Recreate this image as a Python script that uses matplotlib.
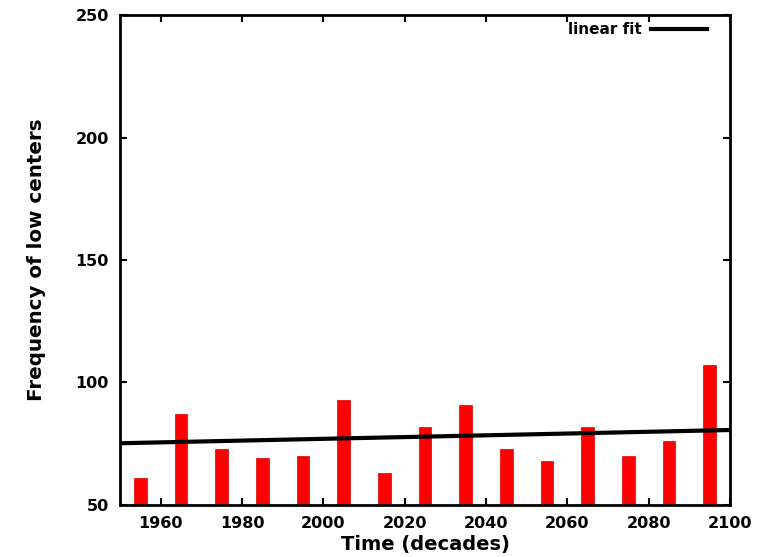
import matplotlib
matplotlib.use("Agg")
import matplotlib.pyplot as plt
from matplotlib.lines import Line2D

# Decadal counts of low-pressure centres
decades = [1955, 1965, 1975, 1985, 1995, 2005, 2015, 2025, 2035, 2045,
           2055, 2065, 2075, 2085, 2095]
counts = [61, 87, 73, 69, 70, 93, 63, 82, 91, 73, 68, 82, 70, 76, 107]

# Linear trend line endpoints
fit_years = [1950, 2100]
fit_values = [75.2, 80.6]

xticks = [1960, 1980, 2000, 2020, 2040, 2060, 2080, 2100]
yticks = [50, 100, 150, 200, 250]

plt.rcParams["font.family"] = ["DejaVu Sans"]
plt.rcParams["font.weight"] = "bold"

fig = plt.figure(figsize=(7.76, 5.57), dpi=100)
ax = fig.add_axes([0.1546, 0.0934, 0.7861, 0.8796])

ax.bar(decades, counts, width=3.1, color="#ff0000", edgecolor="#e00000",
       linewidth=0.5, zorder=2)
ax.plot(fit_years, fit_values, color="black", linewidth=3, zorder=3)

ax.set_xlim(1950, 2100)
ax.set_ylim(50, 250)
ax.set_xticks(xticks)
ax.set_yticks(yticks)
ax.tick_params(direction="in", length=5, width=1.5, top=True, right=True,
               labelsize=11.5, pad=8)
for lbl in ax.get_xticklabels() + ax.get_yticklabels():
    lbl.set_fontweight("bold")
for s in ax.spines.values():
    s.set_linewidth(2)

ax.set_xlabel("Time (decades)", fontsize=14, fontweight="bold", labelpad=3)
ax.set_ylabel("Frequency of low centers", fontsize=14.3, fontweight="bold",
              labelpad=21)

handle = Line2D([], [], color="black", linewidth=3)
leg = ax.legend([handle], ["linear fit"], loc="upper right", frameon=False,
                markerfirst=False, handlelength=3.7, handletextpad=0.6,
                borderpad=0, borderaxespad=0,
                bbox_to_anchor=(0.963, 0.985),
                prop={"weight": "bold", "size": 11})

fig.savefig("out.png", dpi=100)
